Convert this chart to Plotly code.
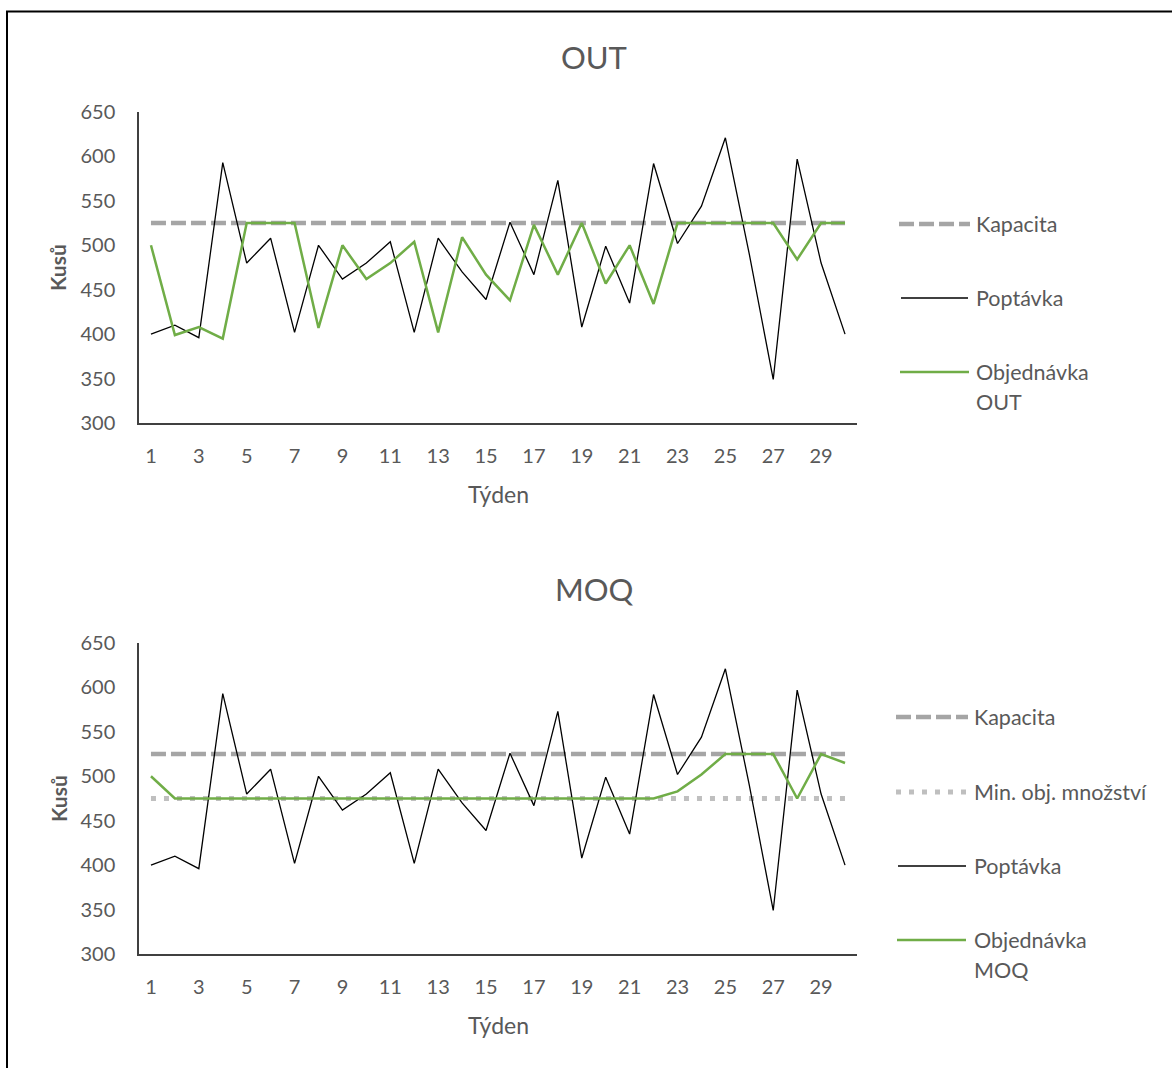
import plotly.graph_objects as go

W, H = 1172, 1068

weeks = list(range(1, 31))
tick_weeks = list(range(1, 30, 2))
y_ticks = [300, 350, 400, 450, 500, 550, 600, 650]

poptavka = [400, 410, 396, 593, 480, 508, 402, 500, 462, 480,
            504, 402, 508, 470, 439, 526, 467, 573, 408, 499,
            435, 592, 502, 544, 621, 490, 349, 597, 480, 400]

objednavka_out = [500, 399, 408, 395, 525, 525, 525, 407, 500, 462,
                  480, 504, 402, 509, 467, 438, 523, 467, 525, 457,
                  500, 434, 525, 525, 525, 525, 525, 484, 525, 525]

objednavka_moq = [500, 475, 475, 475, 475, 475, 475, 475, 475, 475,
                  475, 475, 475, 475, 475, 475, 475, 475, 475, 475,
                  475, 475, 483, 502, 525, 525, 525, 475, 525, 515]

kapacita = [525] * 30
min_obj = [475] * 30

GRAY_TXT = "#595959"
FONT = "Lato"
GREEN = "#70AD47"
DASH_GRAY = "#A5A5A5"
DOT_GRAY = "#BFBFBF"

def px(x):
    return x / W

def py(y):
    return 1 - y / H

fig = go.Figure()

def add_chart(xa, ya, order, with_min):
    fig.add_trace(go.Scatter(x=weeks, y=kapacita, mode="lines", xaxis=xa, yaxis=ya,
                             line=dict(color=DASH_GRAY, width=4.5, dash="15px,5px"),
                             showlegend=False, hoverinfo="skip"))
    if with_min:
        fig.add_trace(go.Scatter(x=weeks, y=min_obj, mode="lines", xaxis=xa, yaxis=ya,
                                 line=dict(color=DOT_GRAY, width=5, dash="5px,8px"),
                                 showlegend=False, hoverinfo="skip"))
    fig.add_trace(go.Scatter(x=weeks, y=poptavka, mode="lines", xaxis=xa, yaxis=ya,
                             line=dict(color="#000000", width=1.3),
                             showlegend=False))
    fig.add_trace(go.Scatter(x=weeks, y=order, mode="lines", xaxis=xa, yaxis=ya,
                             line=dict(color=GREEN, width=2.5),
                             showlegend=False))

add_chart("x", "y", objednavka_out, False)
add_chart("x2", "y2", objednavka_moq, True)

axis_common_x = dict(
    range=[0.5, 30.5], tickmode="array", tickvals=tick_weeks,
    ticktext=[str(t) for t in tick_weeks],
    showgrid=False, zeroline=False, showline=True, linecolor="#404040", linewidth=1.5,
    ticks="", ticklabelstandoff=14, automargin=False,
    tickfont=dict(family=FONT, size=20, color=GRAY_TXT),
)
axis_common_y = dict(
    range=[300, 650], tickmode="array", tickvals=y_ticks,
    showgrid=False, zeroline=False, showline=True, linecolor="#404040", linewidth=1.5,
    ticks="", ticklabelstandoff=18, automargin=False,
    tickfont=dict(family=FONT, size=20, color=GRAY_TXT),
)

x_dom = [px(139), px(857)]
fig.update_layout(
    width=W, height=H,
    margin=dict(l=0, r=0, t=0, b=0, autoexpand=False),
    paper_bgcolor="white", plot_bgcolor="white",
    showlegend=False,
    xaxis=dict(domain=x_dom, anchor="y", **axis_common_x),
    yaxis=dict(domain=[py(423), py(112)], anchor="x", **axis_common_y),
    xaxis2=dict(domain=x_dom, anchor="y2", **axis_common_x),
    yaxis2=dict(domain=[py(954), py(643)], anchor="x2", **axis_common_y),
)

annotations = []
shapes = []

def text(x, y, s, size=20, bold=False, xanchor="center", angle=0):
    annotations.append(dict(
        x=px(x), y=py(y), xref="paper", yref="paper", text=("<b>%s</b>" % s) if bold else s,
        showarrow=False, xanchor=xanchor, yanchor="middle", textangle=angle,
        font=dict(family=FONT, size=size, color=GRAY_TXT)))

# titles
text(594, 57, "OUT", size=31)
text(594, 589, "MOQ", size=31)
# axis titles
text(58, 268, "Kusů", size=21, bold=True, angle=-90)
text(498, 494, "Týden", size=23)
text(58, 799, "Kusů", size=21, bold=True, angle=-90)
text(498, 1025, "Týden", size=23)

def leg_line(x0, x1, y, color, width, dash):
    shapes.append(dict(type="line", xref="paper", yref="paper",
                       x0=px(x0), x1=px(x1), y0=py(y), y1=py(y),
                       line=dict(color=color, width=width, dash=dash)))

LF = 21.5
# top legend
leg_line(899, 970, 224, DASH_GRAY, 4.5, "15px,5px")
text(974, 224, "Kapacita", size=LF, xanchor="left")
leg_line(901, 968, 298, "#000000", 1.3, "solid")
text(974, 298, "Poptávka", size=LF, xanchor="left")
leg_line(900, 969, 372, GREEN, 2.5, "solid")
text(974, 372, "Objednávka", size=LF, xanchor="left")
text(974, 402, "OUT", size=LF, xanchor="left")

# bottom legend
leg_line(896, 968, 717, DASH_GRAY, 4.5, "15px,5px")
text(972, 717, "Kapacita", size=LF, xanchor="left")
leg_line(896, 968, 792, DOT_GRAY, 5, "5px,8px")
text(972, 792, "Min. obj. množství", size=LF, xanchor="left")
leg_line(898, 966, 866, "#000000", 1.3, "solid")
text(972, 866, "Poptávka", size=LF, xanchor="left")
leg_line(897, 966, 940, GREEN, 2.5, "solid")
text(972, 940, "Objednávka", size=LF, xanchor="left")
text(972, 970, "MOQ", size=LF, xanchor="left")

# outer frame
shapes.append(dict(type="rect", xref="paper", yref="paper",
                   x0=px(7), x1=px(1190), y0=py(1090), y1=py(11.5),
                   line=dict(color="#000000", width=2), fillcolor="rgba(0,0,0,0)"))

fig.update_layout(annotations=annotations, shapes=shapes)

fig.write_html("out.html")
